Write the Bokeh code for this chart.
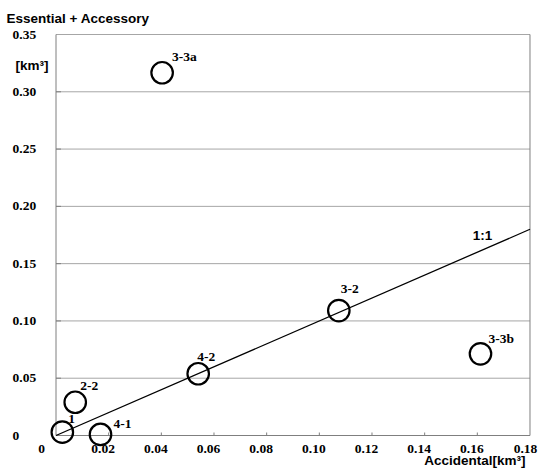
from bokeh.plotting import figure
from bokeh.models import ColumnDataSource, LabelSet, Label, Range1d
from bokeh.embed import file_html
from bokeh.resources import INLINE

# ---- data ----
names = ["1", "2-2", "4-1", "3-3a", "4-2", "3-2", "3-3b"]
accidental = [0.0024, 0.0073, 0.0169, 0.0403, 0.0540, 0.1074, 0.1612]
essential_accessory = [0.0029, 0.0290, 0.0009, 0.3166, 0.0539, 0.1090, 0.0713]

one_to_one = [0.0, 0.18]

x_ticks = [0.0, 0.02, 0.04, 0.06, 0.08, 0.10, 0.12, 0.14, 0.16, 0.18]
x_tick_labels = ["0", "0.02", "0.04", "0.06", "0.08", "0.10", "0.12", "0.14", "0.16", "0.18"]
y_ticks = [0.0, 0.05, 0.10, 0.15, 0.20, 0.25, 0.30, 0.35]
y_tick_labels = ["0", "0.05", "0.10", "0.15", "0.20", "0.25", "0.30", "0.35"]

# ---- layout / styles (pixels) ----
W, H = 539, 468
X0_PX, X_SCALE = 55.5, 2633.3      # pixel of x=0, pixels per unit
Y0_PX, Y_SCALE = 435.0, 1145.7     # pixel of y=0 (from top), pixels per unit
FONT = "Liberation Sans"
FS = "13.5px"
GRID = "#a6a6a6"
AXIS = "#7f7f7f"
name_dx = [6, 5, 13, 10, -1, 2, 8]
name_dy = [13, 16, 10, 16, 17, 22, 15]
xlab_dx = [-14.5, -5.5, -5.5, -5.5, -5.5, -5.5, -5.5, -5.5, -5.5, -4.5]

p = figure(width=W, height=H, output_backend="svg", toolbar_location=None, title=None,
           x_axis_location=None, y_axis_location=None,
           x_range=Range1d(-X0_PX / X_SCALE, (W - X0_PX) / X_SCALE),
           y_range=Range1d(-(H - Y0_PX) / Y_SCALE, Y0_PX / Y_SCALE),
           min_border=0, min_border_left=0, min_border_right=0,
           min_border_top=0, min_border_bottom=0)
p.outline_line_color = None
p.grid.visible = False

n_y = len(y_ticks)
# horizontal grid lines
p.segment(x0=[x_ticks[0]] * (n_y - 1), x1=[x_ticks[-1]] * (n_y - 1),
          y0=y_ticks[1:], y1=y_ticks[1:], line_color=GRID, line_width=1)
# axis lines and right border
p.segment(x0=[x_ticks[0], x_ticks[0], x_ticks[-1]],
          y0=[y_ticks[0], y_ticks[0], y_ticks[0]],
          x1=[x_ticks[0], x_ticks[-1], x_ticks[-1]],
          y1=[y_ticks[-1], y_ticks[0], y_ticks[-1]],
          line_color=AXIS, line_width=1)
# inward tick marks
p.ray(x=x_ticks[1:-1], y=[y_ticks[0]] * (len(x_ticks) - 2), length=3, length_units="screen",
      angle=90, angle_units="deg", line_color=AXIS, line_width=1)
p.ray(x=[x_ticks[0]] * (n_y - 2), y=y_ticks[1:-1], length=5, length_units="screen",
      angle=0, angle_units="deg", line_color=AXIS, line_width=1)

# 1:1 line
p.line(one_to_one, one_to_one, line_color="black", line_width=1.3)

src = ColumnDataSource(dict(x=accidental, y=essential_accessory, name=names,
                            dx=name_dx, dy=name_dy))
p.scatter("x", "y", source=src, size=21.5, fill_color=None, line_color="black", line_width=2.2)

txt = dict(text_font=FONT, text_font_size=FS, text_font_style="bold", text_color="black")
p.add_layout(LabelSet(x="x", y="y", text="name", source=src, x_offset="dx", y_offset="dy",
                      text_align="left", text_baseline="middle", **txt))

# tick labels
xsrc = ColumnDataSource(dict(x=x_ticks, y=[y_ticks[0]] * len(x_ticks), t=x_tick_labels, dx=xlab_dx))
p.add_layout(LabelSet(x="x", y="y", text="t", source=xsrc, x_offset="dx", y_offset=-13.5,
                      text_align="center", text_baseline="middle", **txt))
ysrc = ColumnDataSource(dict(x=[x_ticks[0]] * n_y, y=y_ticks, t=y_tick_labels))
p.add_layout(LabelSet(x="x", y="y", text="t", source=ysrc, x_offset=-43.5, y_offset=0,
                      text_align="left", text_baseline="middle", **txt))

# axis titles and the 1:1 tag
p.add_layout(Label(x=x_ticks[0], y=y_ticks[-1], x_offset=-49.5, y_offset=16,
                   text="Essential + Accessory", text_align="left", text_baseline="middle", **txt))
p.add_layout(Label(x=x_ticks[0], y=y_ticks[-1], x_offset=-40.5, y_offset=-31,
                   text="[km\u00b3]", text_align="left", text_baseline="middle", **txt))
p.add_layout(Label(x=x_ticks[-1], y=y_ticks[0], x_offset=-4.5, y_offset=-24.5,
                   text="Accidental[km\u00b3]", text_align="right", text_baseline="middle", **txt))
p.add_layout(Label(x=0.162, y=0.162, y_offset=14.4, text="1:1",
                   text_align="center", text_baseline="middle", **txt))

open("out.html", "w").write(file_html(p, INLINE))
